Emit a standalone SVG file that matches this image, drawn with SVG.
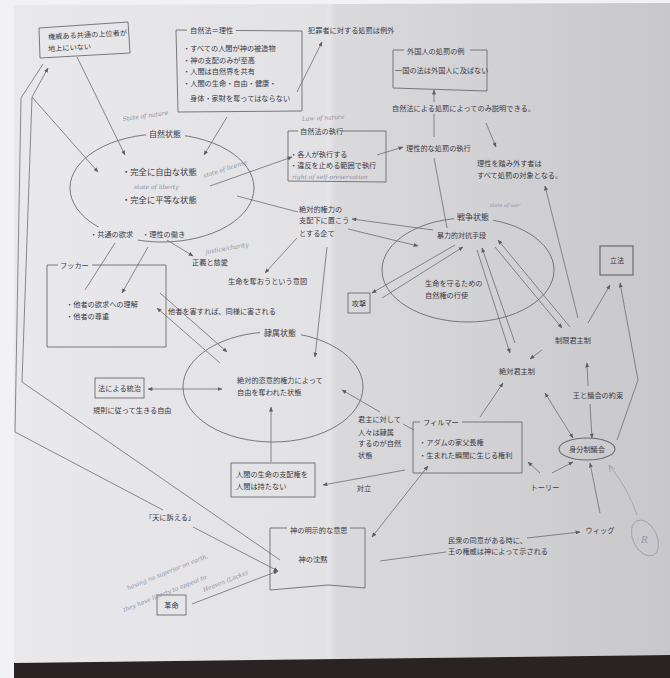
<svg xmlns="http://www.w3.org/2000/svg" width="670" height="678" viewBox="0 0 670 678">
<defs>
<style>
.t{font-family:"Noto Sans CJK JP","Noto Sans",sans-serif;font-size:7.2px;fill:#3b3a3f}
.m{font-size:8.3px}
.h{font-size:8px}
.c{text-anchor:middle}
.hw{font-family:"DejaVu Serif",serif;font-style:italic;font-size:6px;fill:#8f91a4}
.sh{fill:none;stroke:#6c6b70;stroke-width:0.9}
.ln{fill:none;stroke:#6e6d72;stroke-width:0.8}
.pc{fill:none;stroke:#9b9dae;stroke-width:0.8}
</style>
<linearGradient id="pg" x1="0" y1="0" x2="1" y2="0">
<stop offset="0" stop-color="#e9e8eb"/>
<stop offset="0.475" stop-color="#e2e1e4"/>
<stop offset="0.48" stop-color="#e6e5e8"/>
<stop offset="0.49" stop-color="#dad9dc"/>
<stop offset="1" stop-color="#c8c7ca"/>
</linearGradient>
<marker id="a" viewBox="0 0 6 5" refX="5.5" refY="2.5" markerWidth="5" markerHeight="4" markerUnits="userSpaceOnUse" orient="auto-start-reverse">
<path d="M0,0 L6,2.5 L0,5 z" fill="#5e5d62"/>
</marker>
<mask id="gap" maskUnits="userSpaceOnUse" x="0" y="0" width="670" height="678">
<rect width="670" height="678" fill="#fff"/>
<rect x="146" y="127" width="39" height="14" fill="#000"/>
<rect x="88" y="227" width="50" height="14" fill="#000"/>
<rect x="454" y="210" width="39" height="14" fill="#000"/>
<rect x="260" y="326" width="41" height="14" fill="#000"/>
<rect x="187" y="24" width="49" height="12" fill="#000"/>
<rect x="404" y="45" width="66" height="12" fill="#000"/>
<rect x="298" y="125" width="44" height="12" fill="#000"/>
<rect x="58" y="259" width="34" height="12" fill="#000"/>
<rect x="420" y="416" width="42" height="12" fill="#000"/>
<rect x="287" y="524" width="63" height="12" fill="#000"/>
<rect x="390" y="102" width="142" height="12" fill="#000"/>
</mask>
</defs>

<rect width="670" height="678" fill="#f2f1f4"/>
<polygon points="14,5 670,3 670,655 14,663" fill="url(#pg)"/>
<polygon points="14,663 670,655 670,678 14,678" fill="#2a2324"/>

<g id="connectors" mask="url(#gap)">
<line class="ln" x1="77" y1="57" x2="125" y2="155" marker-end="url(#a)"/>
<line class="ln" x1="227" y1="117" x2="204" y2="155" marker-end="url(#a)"/>
<line class="ln" x1="297" y1="92" x2="322" y2="42" marker-end="url(#a)"/>
<line class="ln" x1="434" y1="137" x2="434" y2="90" marker-end="url(#a)"/>
<line class="ln" x1="434" y1="158" x2="447" y2="228"/>
<line class="ln" x1="377" y1="155" x2="403" y2="147" marker-end="url(#a)"/>
<line class="ln" x1="486" y1="123" x2="496" y2="147" marker-end="url(#a)"/>
<line class="ln" x1="578" y1="318" x2="545" y2="186" marker-end="url(#a)"/>
<line class="ln" x1="210" y1="186" x2="292" y2="157" marker-end="url(#a)"/>
<polyline class="ln" points="43,64 21,98 15,432 163,510"/>
<line class="ln" x1="193" y1="527" x2="278" y2="571" marker-end="url(#a)"/>
<polyline class="ln" points="32,97 22,382 280,560"/>
<line class="ln" x1="32" y1="97" x2="48" y2="68" marker-end="url(#a)"/>
<line class="ln" x1="32" y1="97" x2="98" y2="172" marker-end="url(#a)"/>
<line class="ln" x1="115" y1="243" x2="85" y2="290"/>
<line class="ln" x1="148" y1="247" x2="122" y2="293" marker-end="url(#a)"/>
<line class="ln" x1="167" y1="240" x2="193" y2="256" marker-end="url(#a)"/>
<line class="ln" x1="237" y1="196" x2="298" y2="212"/>
<line class="ln" x1="433" y1="230" x2="352" y2="219" marker-end="url(#a)"/>
<line class="ln" x1="348" y1="229" x2="418" y2="246" marker-end="url(#a)"/>
<line class="ln" x1="297" y1="238" x2="265" y2="273" marker-end="url(#a)"/>
<line class="ln" x1="327" y1="247" x2="315" y2="357" marker-end="url(#a)"/>
<line class="ln" x1="160" y1="293" x2="227" y2="352" marker-end="url(#a)"/>
<line class="ln" x1="220" y1="363" x2="157" y2="308" marker-end="url(#a)"/>
<line class="ln" x1="455" y1="245" x2="372" y2="293" marker-end="url(#a)"/>
<line class="ln" x1="382" y1="298" x2="463" y2="247" marker-end="url(#a)"/>
<line class="ln" x1="477" y1="250" x2="510" y2="353" marker-end="url(#a)"/>
<line class="ln" x1="515" y1="343" x2="482" y2="248" marker-end="url(#a)"/>
<line class="ln" x1="495" y1="247" x2="562" y2="328" marker-end="url(#a)"/>
<line class="ln" x1="570" y1="327" x2="498" y2="240" marker-end="url(#a)"/>
<line class="ln" x1="588" y1="323" x2="610" y2="285" marker-end="url(#a)"/>
<polyline class="ln" points="617,440 638,380 620,283" marker-end="url(#a)"/>
<line class="ln" x1="542" y1="350" x2="530" y2="359" marker-end="url(#a)"/>
<line class="ln" x1="588" y1="386" x2="587" y2="363" marker-end="url(#a)"/>
<line class="ln" x1="590" y1="404" x2="592" y2="438" marker-end="url(#a)"/>
<line class="ln" x1="573" y1="438" x2="545" y2="393" marker-start="url(#a)" marker-end="url(#a)"/>
<line class="ln" x1="480" y1="417" x2="503" y2="383" marker-end="url(#a)"/>
<line class="ln" x1="380" y1="412" x2="342" y2="390" marker-end="url(#a)"/>
<line class="ln" x1="403" y1="424" x2="414" y2="430"/>
<line class="ln" x1="405" y1="470" x2="323" y2="485" marker-end="url(#a)"/>
<line class="ln" x1="271" y1="462" x2="271" y2="407" marker-end="url(#a)"/>
<line class="ln" x1="148" y1="389" x2="222" y2="389" marker-start="url(#a)" marker-end="url(#a)"/>
<line class="ln" x1="372" y1="537" x2="428" y2="466" marker-start="url(#a)" marker-end="url(#a)"/>
<line class="ln" x1="380" y1="561" x2="446" y2="552"/>
<line class="ln" x1="527" y1="538" x2="580" y2="532" marker-end="url(#a)"/>
<line class="ln" x1="600" y1="513" x2="590" y2="463" marker-end="url(#a)"/>
<line class="ln" x1="540" y1="473" x2="528" y2="462" marker-end="url(#a)"/>
<line class="ln" x1="552" y1="473" x2="573" y2="462" marker-end="url(#a)"/>
<line class="ln" x1="192" y1="604" x2="278" y2="571" marker-end="url(#a)"/>
</g>

<g id="n-authority">
<polygon class="sh" points="39,28 128,22 130,53 40,58"/>
<text class="t" transform="rotate(-3 48 37)" x="48" y="39.5">権威ある共通の上位者が</text>
<text class="t" transform="rotate(-3 48 49)" x="48" y="51.5">地上にいない</text>
</g>

<g id="n-natural-law">
<path class="sh" mask="url(#gap)" d="M176,30 L302,31 L302,111 L178,112 Z"/>
<text class="t" x="190" y="32.5">自然法＝理性</text>
<text class="t" x="183" y="50.5">・すべての人間が神の被造物</text>
<text class="t" x="183" y="62.5">・神の支配のみが至高</text>
<text class="t" x="183" y="73.5">・人間は自然界を共有</text>
<text class="t" x="183" y="85.5">・人間の生命・自由・健康・</text>
<text class="t" x="190" y="100.5">身体・家財を奪ってはならない</text>
</g>

<g id="n-criminal">
<text class="t" x="308" y="32.5">犯罪者に対する処罰は例外</text>
</g>

<g id="n-foreigner">
<path class="sh" mask="url(#gap)" d="M393,50 L487,50 L487,91 L393,88 Z"/>
<text class="t" x="407" y="53.5">外国人の処罰の例</text>
<text class="t" x="395" y="72.5">一国の法は外国人に及ばない</text>
</g>

<g id="n-explain">
<text class="t" x="392" y="110.5">自然法による処罰によってのみ説明できる。</text>
</g>

<g id="n-execution">
<path class="sh" mask="url(#gap)" d="M288,131 L386,131 L386,182 L288,181 Z"/>
<text class="t" x="300" y="133.5">自然法の執行</text>
<text class="t" x="290" y="156.5">・各人が執行する</text>
<text class="t" x="290" y="167.5">・違反を止める範囲で執行</text>
<text class="hw" transform="rotate(-3 302 120)" x="302" y="121">Law of nature</text>
<text class="hw" x="292" y="179">right of self-preservation</text>
</g>

<g id="n-rational">
<text class="t" x="406" y="150.5">理性的な処罰の執行</text>
</g>

<g id="n-deviate">
<text class="t" x="477" y="165.5">理性を踏み外す者は</text>
<text class="t" x="477" y="177.5">すべて処罰の対象となる。</text>
</g>

<g id="n-state-of-nature">
<ellipse class="sh" mask="url(#gap)" cx="162" cy="188" rx="92" ry="54"/>
<text class="t h c" x="165" y="137">自然状態</text>
<text class="t m" x="122" y="175">・完全に自由な状態</text>
<text class="t m" x="122" y="203">・完全に平等な状態</text>
<text class="t" x="90" y="236.5">・共通の欲求</text>
<text class="t" x="142" y="236.5">・理性の働き</text>
<text class="hw" transform="rotate(-8 123 121)" x="123" y="121">State of nature</text>
<text class="hw" x="134" y="189">state of liberty</text>
<text class="hw" transform="rotate(-18 204 178)" x="204" y="178">state of license</text>
</g>

<g id="n-justice">
<text class="t" x="192" y="264.5">正義と慈愛</text>
<text class="hw" transform="rotate(-10 206 254)" x="206" y="254">justice/charity</text>
</g>

<g id="n-hooker">
<path class="sh" mask="url(#gap)" d="M47,265 L166,265 L166,347 L47,347 Z"/>
<text class="t" x="60" y="267.5">フッカー</text>
<text class="t" x="66" y="306.5">・他者の欲求への理解</text>
<text class="t" x="66" y="318.5">・他者の尊重</text>
</g>

<g id="n-harm">
<text class="t" x="168" y="313.5">他者を害すれば、同様に害される</text>
</g>

<g id="n-attempt">
<text class="t" x="299" y="211.5">絶対的権力の</text>
<text class="t" x="299" y="222.5">支配下に置こう</text>
<text class="t" x="299" y="235.5">とする企て</text>
</g>

<g id="n-intent">
<text class="t" x="228" y="283.5">生命を奪おうという意図</text>
</g>

<g id="n-state-of-war">
<ellipse class="sh" mask="url(#gap)" cx="468" cy="270" rx="86" ry="52"/>
<text class="t h c" x="473" y="220">戦争状態</text>
<text class="t" style="font-size:7px" x="437" y="237.5">暴力的対抗手段</text>
<text class="t" x="425" y="285.5">生命を守るための</text>
<text class="t" x="425" y="297.5">自然権の行使</text>
<text class="hw" style="font-size:5px" x="490" y="207">state of war</text>
</g>

<g id="n-attack">
<rect class="sh" x="348" y="293" width="22" height="20"/>
<text class="t c" x="359" y="305.5">攻撃</text>
</g>

<g id="n-legislation">
<rect class="sh" style="stroke-width:1.2" x="600" y="246" width="33" height="29"/>
<text class="t c" x="617" y="262.5">立法</text>
</g>

<g id="n-limited">
<text class="t c" x="573" y="342.5">制限君主制</text>
</g>

<g id="n-absolute">
<text class="t c" x="517" y="373.5">絶対君主制</text>
</g>

<g id="n-promise">
<text class="t c" x="598" y="397.5">王と議会の約束</text>
</g>

<g id="n-estates">
<ellipse class="sh" style="stroke-width:1.1" cx="587" cy="449" rx="28" ry="11"/>
<text class="t c" x="587" y="452">身分制議会</text>
</g>

<g id="n-tory">
<text class="t c" x="545" y="489.5">トーリー</text>
</g>

<g id="n-whig">
<text class="t c" x="600" y="532.5">ウィッグ</text>
</g>

<g id="n-filmer">
<path class="sh" mask="url(#gap)" d="M413,422 L522,422 L522,473 L413,473 Z"/>
<text class="t" x="423" y="424.5">フィルマー</text>
<text class="t" x="419" y="444.5">・アダムの家父長権</text>
<text class="t" x="419" y="457.5">・生まれた瞬間に生じる権利</text>
</g>

<g id="n-monarch">
<text class="t" x="358" y="421.5">君主に対して</text>
<text class="t" x="358" y="434.5">人々は隷属</text>
<text class="t" x="358" y="446">するのが自然</text>
<text class="t" x="358" y="458">状態</text>
</g>

<g id="n-oppose">
<text class="t c" x="364" y="490.5">対立</text>
</g>

<g id="n-slavery">
<ellipse class="sh" mask="url(#gap)" cx="273" cy="387" rx="90" ry="55"/>
<text class="t h c" x="280" y="336">隷属状態</text>
<text class="t" x="237" y="382.5">絶対的恣意的権力によって</text>
<text class="t" x="237" y="394.5">自由を奪われた状態</text>
</g>

<g id="n-rule-of-law">
<rect class="sh" x="95" y="378" width="49" height="20"/>
<text class="t c" x="119.5" y="390.5">法による統治</text>
<text class="t" x="93" y="412.5">規則に従って生きる自由</text>
</g>

<g id="n-no-dominion">
<rect class="sh" x="231" y="463" width="84" height="34"/>
<text class="t" x="236" y="476.5">人間の生命の支配権を</text>
<text class="t" x="236" y="488.5">人間は持たない</text>
</g>

<g id="n-appeal">
<text class="t c" x="170" y="519.5">「天に訴える」</text>
</g>

<g id="n-god">
<path class="sh" mask="url(#gap)" d="M270,528 L365,528 L365,588 L328,585 L270,590 Z"/>
<text class="t" x="290" y="532.5">神の明示的な意思</text>
<text class="t c" x="313" y="561.5">神の沈黙</text>
</g>

<g id="n-consent">
<text class="t" x="448" y="542.5">民衆の同意がある時に、</text>
<text class="t" x="448" y="553.5">王の権威は神によって示される</text>
</g>

<g id="n-revolution">
<rect class="sh" x="157" y="595" width="29" height="20"/>
<text class="t c" x="171.5" y="607.5">革命</text>
</g>

<g id="pencil">
<text class="hw" transform="rotate(-22 128 590)" x="128" y="590">having no superior on earth,</text>
<text class="hw" transform="rotate(-22 124 612)" x="124" y="612">they have liberty to appeal to</text>
<text class="hw" transform="rotate(-22 204 592)" x="204" y="592">Heaven (Locke)</text>
<path class="pc" d="M637,515 Q628,488 609,465 M609,465 l1,7 M609,465 l6,4"/>
<ellipse class="pc" cx="645" cy="538" rx="12" ry="19" transform="rotate(-25 645 538)"/>
<text class="hw" style="font-size:9px" x="641" y="543">R</text>
</g>
</svg>
